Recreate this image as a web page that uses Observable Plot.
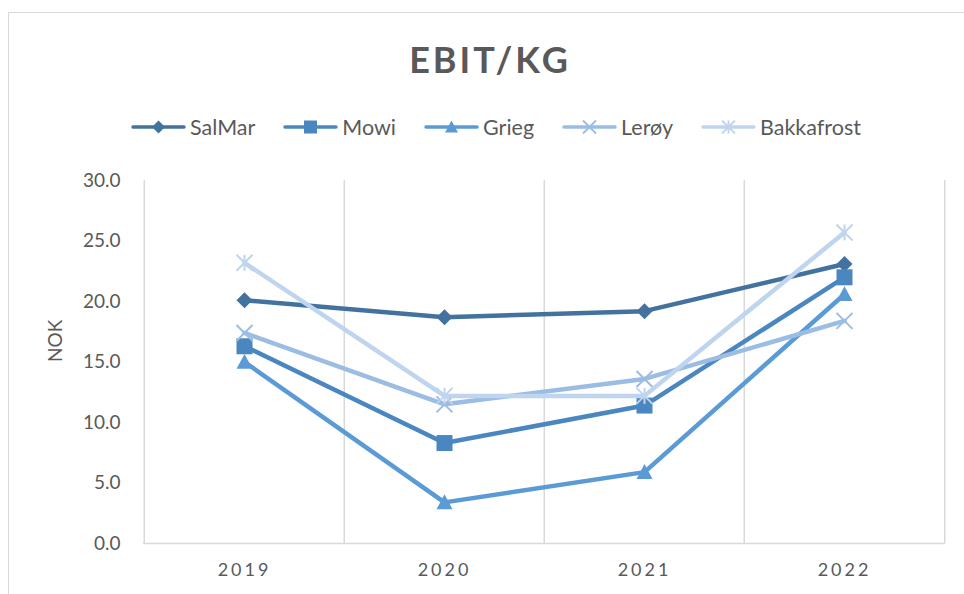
<!DOCTYPE html>
<html><head><meta charset="utf-8">
<script src="https://cdn.jsdelivr.net/npm/d3@7"></script>
<script src="https://cdn.jsdelivr.net/npm/@observablehq/plot@0.6"></script>
<style>
html,body{margin:0;padding:0;background:#fff;overflow:hidden;width:964px;height:594px;}
#wrap{position:relative;width:964px;height:594px;font-family:Lato,"Open Sans",sans-serif;color:#595959;overflow:hidden;}
#border{position:absolute;left:8px;top:12px;width:1200px;height:1200px;border:1.5px solid #d9d9d9;}
#title{position:absolute;left:0;width:980px;top:41px;line-height:36px;text-align:center;font-weight:bold;font-size:36px;letter-spacing:3px;}
#legend{position:absolute;top:115px;left:0;width:992px;height:24px;display:flex;justify-content:center;align-items:center;font-size:21.5px;}
.item{display:flex;align-items:center;margin:0 14px;}
.item svg{margin-right:4px;}
#chart{position:absolute;left:0;top:160px;}
#chart svg [aria-label="x-axis tick label"] text{letter-spacing:3px;font-size:18px;}
#chart svg [aria-label="y-axis tick label"] text{font-size:19px;}
</style>
</head><body>
<div id="wrap">
<div id="border"></div>
<div id="title">EBIT/KG</div>
<div id="legend"></div>
<div id="chart"></div>
</div>
<script>
// ---- data ----
const years = ["2019", "2020", "2021", "2022"];
const companies = ["SalMar", "Mowi", "Grieg", "Lerøy", "Bakkafrost"];
const salmar = [20.1, 18.7, 19.2, 23.1];
const mowi = [16.3, 8.3, 11.4, 22.0];
const grieg = [15.0, 3.4, 5.9, 20.6];
const leroy = [17.4, 11.5, 13.6, 18.4];
const bakkafrost = [23.2, 12.2, 12.2, 25.7];
const yTicks = [0, 5, 10, 15, 20, 25, 30];
const colors = ["#43729f", "#4a86c0", "#5b9bd5", "#9bbde3", "#bfd4ee"];

// ---- symbols ----
const rad = s => Math.sqrt(s / Math.PI);
const symDiamond = {draw(c, s){const r = rad(s); c.moveTo(0,-r); c.lineTo(r,0); c.lineTo(0,r); c.lineTo(-r,0); c.closePath();}};
const symSquare = {draw(c, s){const r = rad(s); c.rect(-r,-r,2*r,2*r);}};
const symTriangle = {draw(c, s){const r = rad(s); c.moveTo(0,-r); c.lineTo(r,r*0.85); c.lineTo(-r,r*0.85); c.closePath();}};
const symTimes = {draw(c, s){const r = rad(s); c.moveTo(-r,-r); c.lineTo(r,r); c.moveTo(r,-r); c.lineTo(-r,r);}};
const symStar = {draw(c, s){const r = rad(s); c.moveTo(-r,-r); c.lineTo(r,r); c.moveTo(r,-r); c.lineTo(-r,r); c.moveTo(0,-r); c.lineTo(0,r);}};

const seriesValues = [salmar, mowi, grieg, leroy, bakkafrost];
const symbols = [symDiamond, symSquare, symTriangle, symTimes, symStar];
const filled = [true, true, true, false, false];

const rows = companies.flatMap((c, k) => years.map((y, i) => ({company: c, year: y, value: seriesValues[k][i]})));

// ---- layout ----
const W = 964, H = 434, mL = 143, mR = 19, mT = 20, mB = 51;
const step = (W - mL - mR) / years.length;

const marks = [
  Plot.ruleX(years, {x: d => d, dx: -step / 2, stroke: "#d9d9d9", strokeWidth: 1.5, strokeOpacity: 1}),
  Plot.ruleX(years.slice(-1), {x: d => d, dx: step / 2, stroke: "#d9d9d9", strokeWidth: 1.5, strokeOpacity: 1}),
  Plot.ruleY([0], {stroke: "#d9d9d9", strokeWidth: 1.5}),
  Plot.axisY({ticks: yTicks, tickSize: 0, tickPadding: 23, tickFormat: d3.format(".1f"), label: null}),
  Plot.axisX({tickSize: 0, tickPadding: 20, label: null}),
  Plot.text(["NOK"], {frameAnchor: "left", dx: -88, rotate: -90, fontSize: 19, fill: "#595959"})
];
companies.forEach((c, k) => {
  const d = rows.filter(r => r.company === c);
  marks.push(Plot.line(d, {x: "year", y: "value", stroke: colors[k], strokeWidth: 4.5, strokeLinejoin: "round", strokeLinecap: "round"}));
  marks.push(Plot.dot(d, filled[k]
    ? {x: "year", y: "value", r: 8, symbol: symbols[k], fill: colors[k], stroke: "none"}
    : {x: "year", y: "value", r: 8, symbol: symbols[k], fill: "none", stroke: colors[k], strokeWidth: 2}));
});

const chart = Plot.plot({
  width: W, height: H,
  marginLeft: mL, marginRight: mR, marginTop: mT, marginBottom: mB,
  x: {type: "point", domain: years, padding: 0.5},
  y: {domain: [0, 30]},
  style: {fontFamily: "Lato, 'Open Sans', sans-serif", color: "#595959", background: "transparent"},
  marks
});
document.getElementById("chart").appendChild(chart);

// ---- legend ----
const legend = d3.select("#legend");
companies.forEach((c, k) => {
  const item = legend.append("div").attr("class", "item");
  const svg = item.append("svg").attr("width", 55).attr("height", 20);
  svg.append("line").attr("x1", 2).attr("x2", 53).attr("y1", 10).attr("y2", 10)
    .attr("stroke", colors[k]).attr("stroke-width", 3.5).attr("stroke-linecap", "round");
  const p = svg.append("path").attr("transform", "translate(27.5,10)")
    .attr("d", d3.symbol(symbols[k], Math.PI * 6.5 * 6.5)());
  if (filled[k]) p.attr("fill", colors[k]);
  else p.attr("fill", "none").attr("stroke", colors[k]).attr("stroke-width", 1.8);
  item.append("span").text(c);
});
</script>
</body></html>
